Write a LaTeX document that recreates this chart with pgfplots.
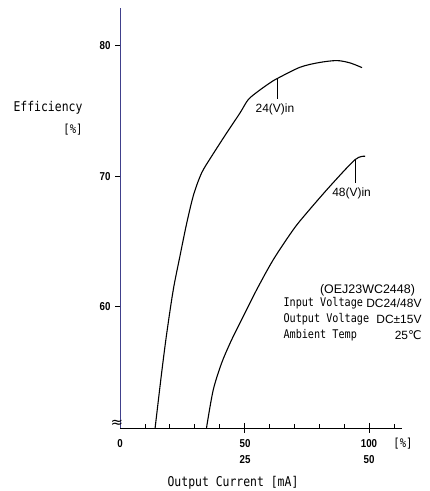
\documentclass[border=0pt]{standalone}
\usepackage{pgfplots}
\pgfplotsset{compat=1.18}
\usepackage{fontspec}
\setmainfont{Liberation Sans}
\newfontfamily\goth[FakeStretch=0.85]{DejaVu Sans Mono}
\newfontfamily\dejavu{DejaVu Sans}
\newfontfamily\narrow[FakeStretch=0.85]{Liberation Sans}
\definecolor{ylinecol}{rgb}{0.25,0.25,0.55}
\begin{document}
\begin{tikzpicture}[x=1bp,y=1bp]
\useasboundingbox (0,0) rectangle (429,491);
\begin{axis}[at={(120bp,63bp)}, anchor=south west, scale only axis,
  width=282bp, height=420bp,
  xmin=0, xmax=113.25, ymin=50.7, ymax=82.88,
  axis x line=bottom, axis y line=left,
  axis line style={-, line width=0.9bp},
  y axis line style={color=ylinecol},
  xtick=\empty, ytick=\empty, clip=false]
\addplot[black, line width=1.1bp, smooth, tension=0.5] coordinates {
 (14.1,50.7) (16.7,54.9) (18.8,58.0) (21.4,61.3) (24.0,63.8) (26.8,66.4)
 (29.6,68.6) (32.8,70.25) (36.8,71.52) (42.85,73.31) (48.2,74.84) (51.5,75.86)
 (55.5,76.5) (60.2,77.14) (63.1,77.47) (72.3,78.34) (80,78.7) (87.1,78.85)
 (92.4,78.67) (97.2,78.31)};
\addplot[black, line width=1.1bp, smooth, tension=0.5] coordinates {
 (34.8,50.7) (35.06,51.09) (37.47,53.64) (40.84,55.69) (44.86,57.47) (49.52,59.26)
 (54.9,61.3) (61.57,63.6) (69.6,65.9) (75.0,67.18) (84.3,69.22) (94.4,71.26) (98.4,71.52)};
% ticks
\pgfplotsinvokeforeach{50,100}{\draw[line width=0.9bp] (axis cs:#1,50.7) ++(0pt,5bp) -- ++(0pt,-10bp);}
\pgfplotsinvokeforeach{10,20,30,40,60,70,80,90,110}{\draw[line width=0.8bp] (axis cs:#1,50.7) -- ++(0pt,4bp);}
\pgfplotsinvokeforeach{60,70,80}{\draw[line width=0.8bp] (axis cs:0,#1) -- ++(-5bp,0pt);}
% curve labels
\draw[line width=0.8bp] (axis cs:63.1,77.5) -- (axis cs:63.1,75.9);
\node[font=\fontsize{12}{14}\selectfont] at (axis cs:62.2,75.1) {24(V)in};
\draw[line width=0.8bp] (axis cs:94.4,71.26) -- (axis cs:94.4,69.5);
\node[font=\fontsize{12}{14}\selectfont] at (axis cs:93,68.7) {48(V)in};
\end{axis}
% y tick labels
\foreach \py/\t in {445/80,314/70,184/60} \node[font=\narrow\bfseries\fontsize{11.5}{13}\selectfont] at (105,\py) {\t};
% x tick labels
\node[font=\narrow\bfseries\fontsize{11.5}{13}\selectfont] at (120,47) {0};
\node[font=\narrow\bfseries\fontsize{11.5}{13}\selectfont] at (245,47) {50};
\node[font=\narrow\bfseries\fontsize{11.5}{13}\selectfont] at (245,31) {25};
\node[font=\narrow\bfseries\fontsize{11.5}{13}\selectfont] at (369,47) {100};
\node[font=\narrow\bfseries\fontsize{11.5}{13}\selectfont] at (369,31) {50};
\node[font=\goth\fontsize{12.5}{14}\selectfont] at (403,47) {[\%]};
\node[font=\goth\fontsize{13.5}{15}\selectfont] at (233,8) {Output Current [mA]};
\node[font=\goth\fontsize{13.5}{15}\selectfont] at (48,383) {Efficiency};
\node[font=\goth\fontsize{12.5}{14}\selectfont] at (73,361) {[\%]};
\node[font=\dejavu\fontsize{15}{16}\selectfont] at (117,67) {≈};
% info block
\node[font=\fontsize{12.5}{14}\selectfont] at (367.5,201) {(OEJ23WC2448)};
\node[anchor=west, font=\goth\fontsize{12}{14}\selectfont] at (280,188) {Input Voltage};
\node[anchor=east, font=\fontsize{12}{14}\selectfont] at (425,188) {DC24/48V};
\node[anchor=west, font=\goth\fontsize{12}{14}\selectfont] at (280,172) {Output Voltage};
\node[anchor=east, font=\fontsize{12}{14}\selectfont] at (425,172) {DC±15V};
\node[anchor=west, font=\goth\fontsize{12}{14}\selectfont] at (280,156) {Ambient Temp};
\node[anchor=east, font=\fontsize{12}{14}\selectfont] at (425,156) {25{\dejavu ℃}};
\end{tikzpicture}
\end{document}
